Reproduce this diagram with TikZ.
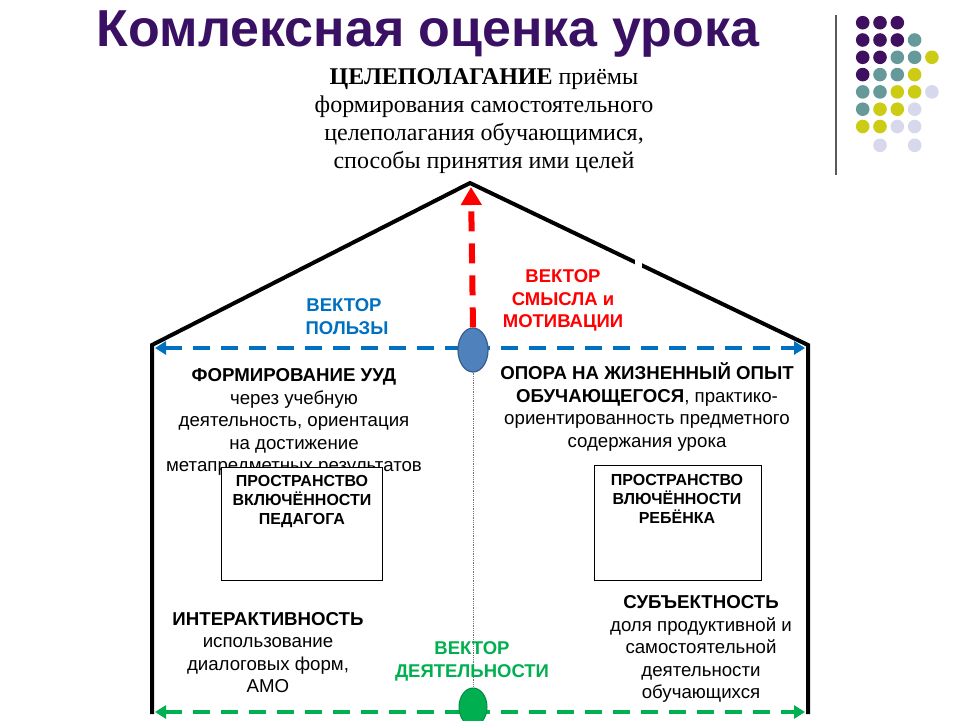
\documentclass[tikz,border=0pt]{standalone}
\usepackage{fontspec}
\setmainfont{Liberation Sans}
\newfontfamily\serifru{Liberation Serif}
\usetikzlibrary{arrows.meta,shapes.geometric}
\definecolor{titlepurple}{RGB}{58,16,100}
\definecolor{dotP}{RGB}{64,16,96}
\definecolor{dotT}{RGB}{102,153,153}
\definecolor{dotY}{RGB}{204,204,20}
\definecolor{dotL}{RGB}{216,216,236}
\definecolor{vblue}{RGB}{0,112,192}
\definecolor{ellblue}{RGB}{79,129,189}
\definecolor{ellblueb}{RGB}{56,93,138}
\definecolor{vred}{RGB}{255,0,0}
\definecolor{vgreen}{RGB}{0,176,80}
\begin{document}
\begin{tikzpicture}[x=1pt,y=-1pt,
  txt/.style={align=center, inner sep=0pt, anchor=north, font=\fontsize{18.67}{22.5}\selectfont},
  boxtxt/.style={align=center, inner sep=0pt, anchor=north, font=\bfseries\fontsize{16}{19}\selectfont},
  vlabel/.style={align=center, inner sep=0pt, anchor=north, font=\bfseries\fontsize{18.5}{22.5}\selectfont},
  frame/.style={draw=black, line width=1pt, fill=white, minimum width=161pt, minimum height=113pt, anchor=north west, inner sep=0pt},
  hvec/.style={line width=3.5pt, dash pattern=on 17pt off 11pt, {Triangle[length=11pt,width=13pt]}-{Triangle[length=11pt,width=13pt]}},
  wall/.style={line width=4pt, line join=miter, line cap=rect}
]
\useasboundingbox[fill=white] (0,0) rectangle (960,720);

% title
\node[anchor=north, inner sep=0pt, font=\bfseries\fontsize{52}{60}\selectfont, text=titlepurple] (title) at (428,11) {Комлексная оценка урока};

% decorative line and dots
\draw[line width=1.6pt, black!65] (836,15) -- (836,175);
\foreach \r/\row in {0/{P,P,P}, 1/{P,P,P,T}, 2/{P,P,T,T,Y}, 3/{P,T,T,Y}, 4/{T,T,Y,Y,L}, 5/{T,Y,Y,L}, 6/{Y,Y,L,L}}{
  \foreach \c [count=\i from 0] in \row {
    \fill[dot\c] (862.7+17.3*\i, 22.7+17.3*\r) circle (6.8pt);
  }
}
\fill[dotL] (880,145.3) circle (6.8pt);
\fill[dotL] (914.7,145.3) circle (6.8pt);

% house
\coordinate (lbase) at (152,712);
\coordinate (leave) at (152,345);
\coordinate (apex) at (470,183);
\coordinate (reave) at (808,345);
\coordinate (rbase) at (808,712);
\draw[wall] (lbase) -- (leave) -- (apex) -- (reave) -- (rbase);
\fill[white] (635,250) rectangle (642,272);

% goal text
\node[anchor=north, align=center, inner sep=0pt, font=\serifru\fontsize{24}{28}\selectfont] (goal) at (484,68)
  {\textbf{ЦЕЛЕПОЛАГАНИЕ} приёмы\\формирования самостоятельного\\целеполагания обучающимися,\\способы принятия ими целей};

% vectors
\coordinate (bl) at (155,348);
\coordinate (br) at (805,348);
\coordinate (gl) at (155,712);
\coordinate (gr) at (805,712);
\draw[hvec, vblue] (bl) -- (br);
\draw[hvec, vgreen] (gl) -- (gr);

\node[ellipse, minimum width=30pt, minimum height=44pt, inner sep=0pt, fill=ellblue, draw=ellblueb, line width=1.2pt] (eb) at (473,350) {};
\node[ellipse, minimum width=28pt, minimum height=38pt, inner sep=0pt, fill=vgreen, draw=vgreen!80!black, line width=1pt] (eg) at (473,707) {};

\coordinate (redtip) at (471,187);
\draw[vred, line width=6pt, dash pattern=on 20pt off 12pt, -{Triangle[length=18pt,width=20pt]}] (eb.north) -- (redtip);
\draw[black!55, line width=0.8pt, densely dotted] (eb.south) -- (eg.north);

% vector labels
\node[vlabel, text=vblue] (lblue) at (344,298.5) {ВЕКТОР\\\hspace*{6pt}ПОЛЬЗЫ};
\node[vlabel, text=vred] (lred) at (563,269.5) {ВЕКТОР\\СМЫСЛА и\\МОТИВАЦИИ};
\node[vlabel, text=vgreen] (lgreen) at (472,641.5) {ВЕКТОР\\ДЕЯТЕЛЬНОСТИ};

% left upper block
\node[txt] (uud) at (294,368.5) {\textbf{ФОРМИРОВАНИЕ УУД}\\через учебную\\деятельность, ориентация\\на достижение\\метапредметных результатов};
% right upper block
\node[txt] (opyt) at (647,362.5) {\textbf{ОПОРА НА ЖИЗНЕННЫЙ ОПЫТ}\\\textbf{ОБУЧАЮЩЕГОСЯ}, практико-\\ориентированность предметного\\содержания урока};

% boxes
\node[frame] (boxL) at (221,467) {};
\node[boxtxt] (boxLt) at (302,475) {ПРОСТРАНСТВО\\ВКЛЮЧЁННОСТИ\\ПЕДАГОГА};
\node[frame, minimum width=167pt, minimum height=115pt] (boxR) at (594,465) {};
\node[boxtxt] (boxRt) at (677,474) {ПРОСТРАНСТВО\\ВЛЮЧЁННОСТИ\\РЕБЁНКА};

% lower blocks
\node[txt] (inter) at (268,612) {\textbf{ИНТЕРАКТИВНОСТЬ}\\использование\\диалоговых форм,\\АМО};
\node[txt] (subj) at (701,595.5) {\textbf{СУБЪЕКТНОСТЬ}\\доля продуктивной и\\самостоятельной\\деятельности\\обучающихся};
\end{tikzpicture}
\end{document}
